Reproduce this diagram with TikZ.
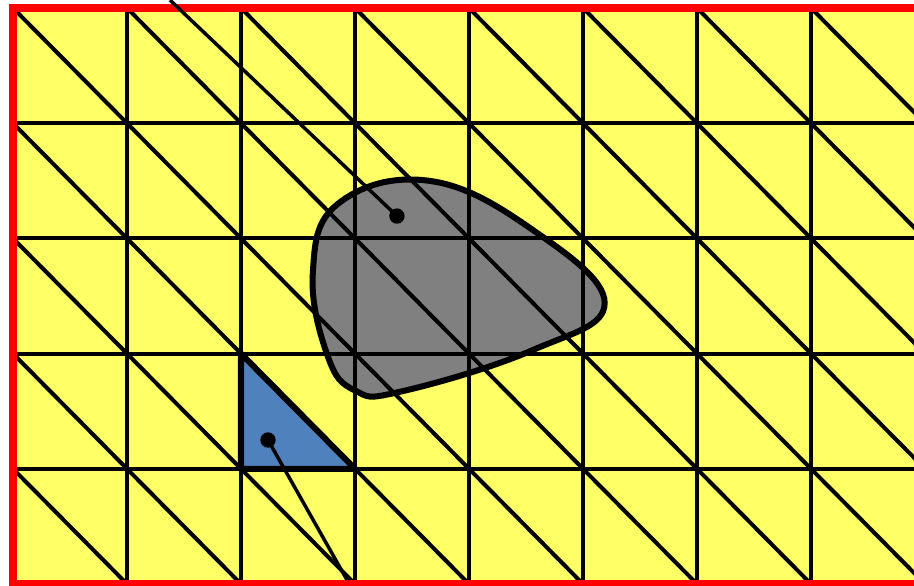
\documentclass[tikz,border=0pt]{standalone}
\usepackage{tikz}
\definecolor{meshyellow}{RGB}{255,255,102}
\definecolor{holegray}{RGB}{128,128,128}
\definecolor{cellblue}{RGB}{79,129,189}
\begin{document}
\begin{tikzpicture}[x=3cm,y=3.0316cm,
    meshline/.style={line width=3pt},
    outline/.style={line width=4.5pt,line join=round},
    pointer/.style={line width=2.6pt},
    dotmark/.style={circle,fill=black,inner sep=0pt,minimum size=11.5pt}]
                \useasboundingbox (-0.114,-0.0087) rectangle (7.9035,5.0694);
                \coordinate (SW) at (0,0);
                \coordinate (NE) at (8,5);
                \coordinate (Ptop) at (1.377,5.069);
                \coordinate (Pbot) at (2.93,0.035);
                \fill[meshyellow] (SW) rectangle (NE);
                % obstacle
                \draw[outline,fill=holegray] plot[smooth cycle,tension=0.7] coordinates {
                    (3.65,3.50) (4.56,3.073) (5.19,2.44)
                    (4.56,2.031) (3.40,1.67) (3.00,1.68) (2.76,1.98)
                    (2.63,2.70) (2.85,3.30)};
                % mesh
                \foreach \i in {0,...,8}
                    \draw[meshline] (\i,0)--(\i,5);
                \foreach \j in {0,...,5}
                    \draw[meshline] (0,\j)--(8,\j);
                \foreach \i in {0,...,7}
                    \foreach \j in {0,...,4}
                        \draw[meshline] (\i,\j+1)--(\i+1,\j);
                \draw[outline,fill=cellblue] (2,2)--(2,1)--(3,1)--cycle;
                \draw[red,line width=6pt] (SW) rectangle (NE);
                \node[dotmark] (gdot) at (3.368,3.194) {};
                \node[dotmark] (bdot) at (2.237,1.25) {};
                \draw[pointer] (gdot.center)--(Ptop);
                \draw[pointer] (bdot.center)--(Pbot);
            \end{tikzpicture}
\end{document}
